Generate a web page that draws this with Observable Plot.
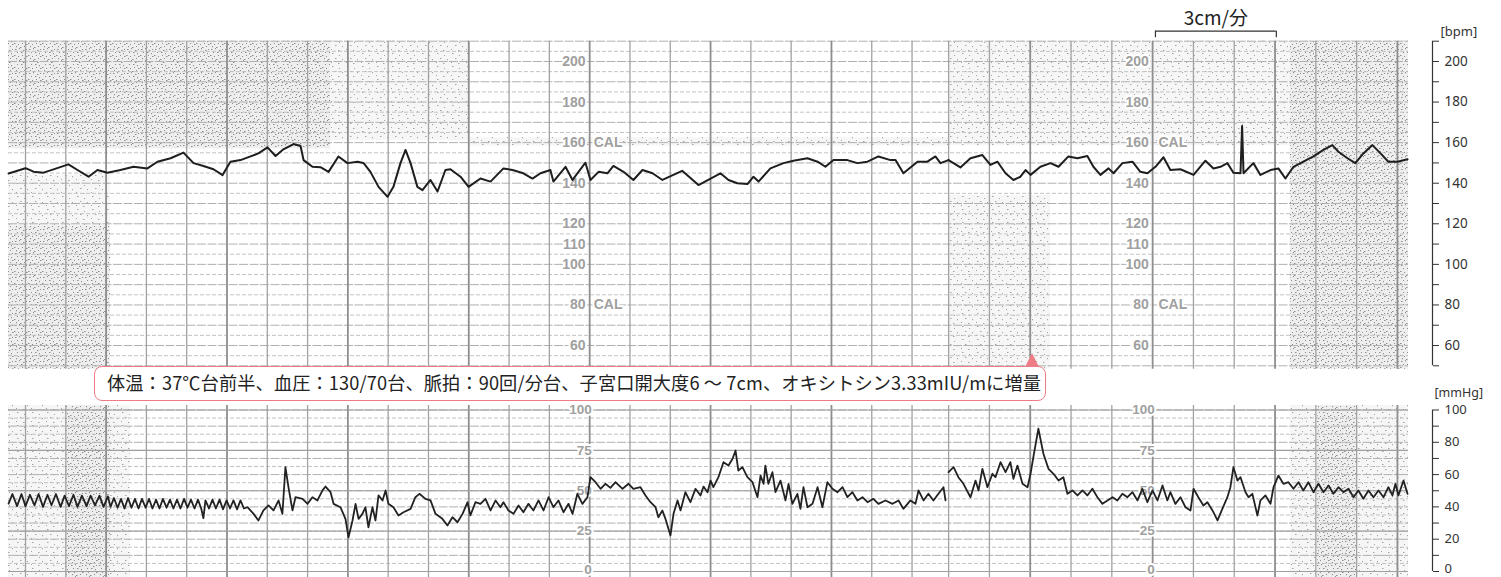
<!DOCTYPE html>
<html><head><meta charset="utf-8">
<script src="https://cdn.jsdelivr.net/npm/d3@7"></script>
<script src="https://cdn.jsdelivr.net/npm/@observablehq/plot@0.6"></script>
<style>
body{margin:0;background:#fff;}
#wrap{position:relative;width:1501px;height:577px;overflow:hidden;}
#top,#bot{position:absolute;left:0;}
#top{top:0;}
#bot{top:372px;}
#note{position:absolute;left:94px;top:366px;width:952px;height:35px;box-sizing:border-box;border:1.5px solid #ee7c86;border-radius:8px;background:#fff;font-family:"Noto Sans CJK JP",sans-serif;font-size:18.2px;line-height:31px;padding-left:12px;color:#222;white-space:nowrap;z-index:3;letter-spacing:0.12px;}
#tri{position:absolute;left:1025px;top:353px;width:0;height:0;border-left:7px solid transparent;border-right:7px solid transparent;border-bottom:14px solid #ee7c86;z-index:2;}
</style></head>
<body>
<svg width="0" height="0" style="position:absolute">
<defs>
<pattern id="spkHeavy" width="14" height="12" patternUnits="userSpaceOnUse">
<rect width="14" height="12" fill="#eeeeee"/>
<g fill="#8e8e8e">
<rect x="1" y="1" width="1.5" height="1"/><rect x="5" y="0" width="1" height="1.2"/><rect x="9" y="2" width="1.5" height="1"/><rect x="12" y="1" width="1" height="1"/>
<rect x="3" y="4" width="1" height="1"/><rect x="7" y="4" width="1.5" height="1"/><rect x="11" y="5" width="1" height="1.2"/><rect x="0" y="7" width="1.5" height="1"/>
<rect x="4" y="8" width="1" height="1"/><rect x="8" y="7" width="1" height="1"/><rect x="12" y="8" width="1.5" height="1"/><rect x="2" y="10" width="1" height="1.2"/>
<rect x="6" y="11" width="1.5" height="1"/><rect x="10" y="10" width="1" height="1"/>
</g>
</pattern>
<pattern id="spkLight" width="15" height="13" patternUnits="userSpaceOnUse">
<rect width="15" height="13" fill="#f6f6f6"/>
<g fill="#a4a4a4">
<rect x="2" y="1" width="1.5" height="1"/><rect x="9" y="3" width="1" height="1"/><rect x="5" y="6" width="1.5" height="1"/>
<rect x="12" y="7" width="1" height="1.2"/><rect x="1" y="10" width="1" height="1"/><rect x="8" y="11" width="1.5" height="1"/>
</g>
</pattern>
</defs>
</svg>
<div id="wrap">
<div id="top"></div>
<div id="bot"></div>
<div id="tri"></div>
<div id="note"></div>
</div>
<script>
// ---------- data (time in seconds along the strip, 3 cm/min) ----------
const fhrStrip1 = [[-8.4,144.8],[0,147.4],[4.0,145.7],[8.9,145.2],[13.9,146.8],[21.3,149.3],[25.8,146.5],[31.3,143.2],[35.7,146.5],[40.7,145.2],[47.1,146.5],[53.6,148.1],[60.5,147.3],[65.5,150.6],[72.0,152.3],[78.4,155.1],[83.4,149.9],[88.3,148.5],[93.3,146.9],[97.8,144.0],[101.7,150.6],[106.7,151.4],[111.7,153.2],[115.6,154.7],[120.1,157.7],[124.1,153.4],[128.0,156.7],[133.0,159.3],[136.5,158.3],[138.0,151.4],[142.4,148.1],[146.4,147.9],[150.4,145.6],[155.3,153.2],[159.8,149.9],[164.8,150.6],[167.7,150.0],[171.2,145.6],[175.2,138.2],[179.7,133.3],[182.6,138.2],[186.1,149.9],[188.6,156.4],[191.1,149.9],[194.5,138.2],[197.0,136.6],[201.0,141.6],[204.5,135.9],[208.4,146.5],[210.9,146.9],[215.9,143.2],[219.9,138.2],[225.8,142.3],[230.8,140.8],[237.2,147.3],[241.7,146.5],[247.1,144.9],[251.6,142.3],[255.6,144.9],[260.5,146.5],[262.0,140.8],[268.0,148.1],[271.5,141.6],[277.9,150.1],[280.4,141.6],[284.4,145.6],[288.8,144.9],[291.8,148.5],[296.8,145.6],[301.7,141.6],[306.2,146.5],[311.2,144.9],[316.1,141.6],[325.9,146.1],[334.0,139.1],[340.0,142.3],[344.9,144.9],[348.9,141.6],[353.3,140.0],[358.3,139.6],[361.3,143.2],[363.8,140.8],[369.7,147.3],[376.2,149.9],[381.1,151.1],[388.1,152.3],[393.1,150.6],[397.0,148.1],[401.0,151.4],[407.9,151.4],[412.9,149.9],[417.9,150.6],[423.3,153.2],[429.3,151.4],[431.8,151.4],[435.7,144.9],[442.7,150.6],[447.6,150.6],[451.6,153.2],[454.1,149.9],[458.1,151.4]];
const fhrStrip2 = [[458.1,151.4],[464.0,147.8],[469.0,152.3],[474.9,153.9],[478.9,149.0],[482.4,150.6],[486.4,144.9],[490.3,141.6],[493.8,143.2],[496.3,146.5],[498.8,144.1],[503.7,148.1],[508.7,149.9],[512.7,148.1],[517.6,153.2],[522.1,152.3],[527.0,153.4],[530.0,148.1],[533.5,144.1],[537.5,147.3],[540.0,144.9],[544.4,149.9],[549.4,150.6],[553.3,145.6],[556.8,144.9],[560.8,148.1],[564.8,152.8],[568.2,146.5],[573.2,146.9],[579.7,144.1],[585.6,151.1],[589.6,147.3],[593.1,148.1],[596.5,149.9],[599.5,145.2],[603.0,144.9],[603.8,168.2],[604.5,144.9],[609.4,149.9],[612.9,144.1],[617.9,146.5],[621.8,147.3],[625.3,142.3],[629.3,148.1],[634.2,150.6],[639.2,153.2],[644.2,156.4],[648.6,158.8],[651.6,155.5],[656.1,152.3],[660.0,149.9],[664.0,154.7],[668.5,158.8],[672.5,154.7],[676.4,150.6],[680.9,150.6],[685.9,151.8]];
const ucStrip1 = [[-8.4,42],[-6.5,48],[-4.2,40.5],[-2.0,48],[0,40.5],[2.2,47.5],[4.5,41],[6.5,48],[8.7,40],[10.9,47.5],[12.9,41],[15.1,48],[17.4,40],[19.4,47],[21.6,40.5],[23.8,47.5],[25.8,40],[28.0,47],[30.3,40.5],[32.3,47],[34.5,41],[36.7,47],[38.7,40],[40.9,46.5],[42.2,40],[43.9,45.5],[45.7,39.5],[47.4,45],[49.1,39],[50.9,45.5],[52.6,39.5],[54.3,45],[56.1,39],[57.8,45],[59.6,39.5],[61.3,45],[63.0,39],[64.8,44.5],[66.5,39],[68.2,45],[70.0,39.5],[71.7,44.5],[73.4,39],[75.2,44.5],[76.9,39],[78.7,45],[80.4,39.5],[82.1,44.5],[83.9,39],[85.6,44.5],[87.3,38.5],[88.3,33],[89.3,44],[91.1,39],[92.8,44.5],[94.5,39],[96.3,44.5],[98.0,38.5],[99.8,44],[101.5,39],[103.2,44],[105.0,38.5],[106.7,44],[108.4,39],[110.2,39.8],[113.2,35.7],[115.6,31.6],[118.1,37.8],[120.6,40.9],[123.1,37.8],[125.6,44],[127.5,35.7],[129.0,64.6],[130.5,52.2],[132.5,37.8],[134.0,46],[137.5,45],[140.0,41.9],[142.4,46],[144.9,44],[147.4,50.2],[148.9,52.6],[151.4,49.1],[152.9,41.9],[156.3,39.8],[158.8,32.6],[160.3,21.2],[162.3,31.6],[163.8,41.9],[165.3,32.6],[167.2,35.7],[168.7,39.8],[170.2,27.4],[172.2,39.8],[173.7,31.6],[175.2,47.1],[177.2,44],[178.7,50.2],[180.1,41.9],[182.6,39.8],[185.1,34.7],[187.6,36.7],[191.1,38.8],[193.5,46],[195.5,48.1],[198.5,45],[201.0,44],[203.5,35.7],[206.9,32.6],[209.4,28.5],[211.9,33.6],[214.4,30.5],[216.9,35.7],[219.4,42.9],[220.8,34.7],[223.3,42.9],[225.8,41.9],[228.3,45],[230.8,37.8],[233.3,44],[235.7,39.8],[237.2,42.9],[239.7,37.8],[242.2,35.7],[244.7,40.9],[247.1,36.7],[249.6,41.9],[252.1,37.8],[254.6,44],[257.1,37.8],[259.6,46],[262.0,39.8],[264.5,44],[267.0,36.7],[269.5,41.9],[271.5,35.7],[273.9,48.1],[276.4,41.9],[278.9,46],[280.4,58.4],[282.9,55.3],[285.4,51.2],[287.8,54.3],[290.3,51.8],[292.8,55.3],[296.3,51.2],[299.3,54.3],[301.7,51.2],[305.2,52.2],[307.7,47.1],[310.2,42.9],[312.7,39.8],[314.1,33.6],[316.1,37.8],[317.6,32.6],[320.1,22.3],[321.6,35.7],[323.6,44],[325.1,37.8],[327.5,49.1],[330.0,42.9],[332.5,51.2],[335.0,47.1],[336.5,52.6],[338.5,49.1],[340.0,56.3],[341.4,52.2],[343.9,58.4],[346.4,67.7],[348.9,65.6],[350.9,69.8],[352.4,74.9],[353.8,62.5],[355.8,64.6],[358.3,58.4],[360.8,55.3],[363.3,46],[364.8,59.4],[366.3,54.3],[367.2,65.6],[368.7,54.3],[370.7,61.5],[372.2,49.1],[374.7,56.3],[377.2,44],[378.7,54.3],[380.6,41.9],[383.1,48.1],[384.6,38.8],[386.1,52.2],[388.1,39.8],[390.6,41.9],[393.1,52.2],[395.5,39.8],[398.0,55.3],[400.5,51.2],[403.0,49.1],[405.5,52.2],[407.9,46],[410.4,49.1],[412.9,44],[415.4,46],[417.9,42.9],[420.8,45],[423.3,41.9],[426.8,44],[430.3,41.9],[433.3,44],[435.7,38.8],[439.2,44],[441.7,41.9],[443.2,50.2],[445.7,44],[448.1,48.1],[450.6,44],[453.1,48.1],[455.6,52.2],[456.6,44]];
const ucStrip2 = [[458.1,61.5],[460.6,64.6],[463.0,58.4],[465.5,54.3],[469.0,46],[471.5,56.3],[473.0,50.2],[474.9,63.6],[477.4,52.2],[479.9,60.5],[481.4,58.4],[483.9,67.7],[486.4,61.5],[488.8,67.7],[490.3,57.4],[492.3,65.6],[494.8,54.3],[497.3,52.2],[498.8,60.5],[500.2,70.8],[502.7,88.4],[505.2,72.9],[507.7,63.6],[510.2,60.5],[512.7,56.3],[515.1,58.4],[517.1,48.1],[519.6,50.2],[522.1,47.1],[524.6,50.2],[527.0,47.1],[529.5,51.2],[532.0,46],[534.5,41.9],[537.0,44],[539.5,46],[541.9,44],[544.4,48.1],[546.9,46],[549.4,49.1],[551.9,44],[554.3,51.2],[556.8,42.9],[559.3,50.2],[561.8,44],[564.3,53.3],[566.7,44],[568.2,49.1],[570.7,41.9],[573.2,46],[575.7,39.8],[578.2,37.8],[579.7,51.2],[582.1,46],[584.6,40.9],[586.6,42.9],[589.1,37.8],[591.6,31.6],[594.0,38.8],[596.5,46],[598.0,52.2],[599.5,64.6],[601.5,56.3],[603.0,58.4],[605.5,49.1],[607.0,46],[608.9,48.1],[611.4,34.7],[612.9,44],[615.4,47.1],[617.9,41.9],[619.4,52.2],[621.8,59.4],[624.3,54.3],[626.8,55.3],[629.3,51.2],[631.8,55.3],[634.2,50.2],[636.7,55.3],[639.2,49.1],[641.7,54.3],[644.2,49.1],[646.7,53.3],[649.1,48.1],[651.6,52.2],[654.1,49.1],[656.6,51.2],[659.1,46],[661.5,50.2],[664.0,45],[666.5,50.2],[669.0,46],[671.5,50.2],[674.0,46],[676.4,52.2],[678.4,47.1],[679.9,54.3],[681.4,47.1],[683.9,56.3],[685.9,48.1]];

const fhrPaperLabels = ["200","180","160","140","120","110","100","80","60"];
const calLabels = ["160","80"];
const ucPaperLabels = ["100","75","50","25"];
const ucPaperZero = ["0"];
const fhrAxisTicks = [50,60,70,80,90,100,110,120,130,140,150,160,170,180,190,200,210];
const ucAxisTicks = [0,10,20,30,40,50,60,70,80,90,100];
const ucAxisLabels = [20,40,60,80,100];
const ucAxisZero = [0];
const speedBar = [560.8, 620.8];
const speedLabel = "3cm/分";
const noteText = "体温：37℃台前半、血圧：130/70台、脈拍：90回/分台、子宮口開大度6 ～ 7cm、オキシトシン3.33mIU/mに増量";

// ---------- paper layout (strip geometry) ----------
const T0 = -8.44, T1 = 698.3, PAPER_END = 686.4, SEAM = 458.15, STEP2 = 20.25;
const grid1 = d3.range(0, 441, 20);
const grid2 = d3.range(0, 12).map(k => SEAM + STEP2 * k);
const minor1 = grid1.filter(t => t % 60 !== 40), major1 = grid1.filter(t => t % 60 === 40);
const minor2 = grid2.filter((t, k) => k % 3 !== 2), major2 = grid2.filter((t, k) => k % 3 === 2);
const labelCols = [278, 557.5];
const calCols = [282, 562.3];

const topHeavy = [
  {t1: T0, t2: 151.4, v1: 157, v2: 210},
  {t1: T0, t2: 42.2, v1: 48.3, v2: 119},
  {t1: 627.8, t2: PAPER_END, v1: 48.3, v2: 210},
];
const topLight = [
  {t1: 151.4, t2: 220.8, v1: 161, v2: 210},
  {t1: T0, t2: 42.2, v1: 119, v2: 144},
  {t1: 220.8, t2: SEAM, v1: 158.3, v2: 162.5},
  {t1: SEAM, t2: 627.8, v1: 158.5, v2: 210},
  {t1: SEAM, t2: 508.7, v1: 48.3, v2: 134},
];
const botHeavy = [
  {t1: 19.9, t2: 42.2, v1: -3.7, v2: 102.8},
  {t1: 641.2, t2: 661.0, v1: -3.7, v2: 102.8},
];
const botLight = [
  {t1: T0, t2: 19.9, v1: -3.7, v2: 102.8},
  {t1: 42.2, t2: 52, v1: -3.7, v2: 102.8},
  {t1: 627.8, t2: 641.2, v1: -3.7, v2: 102.8},
  {t1: 661.0, t2: PAPER_END, v1: -3.7, v2: 102.8},
];

const toRows = a => a.map(([t, v]) => ({t, v}));
const numFont = "Noto Sans";
const paperFont = "Liberation Sans";
const paperText = {fill: "#a0a0a0", stroke: "white", strokeWidth: 4, paintOrder: "stroke", fontSize: 13.5, fontWeight: "bold", fontFamily: paperFont};

function paperMarks(heavy, light, vLo, vHi, hMajor, hMinor) {
  return [
    Plot.rect(light, {x1: "t1", x2: "t2", y1: "v1", y2: "v2", fill: "url(#spkLight)"}),
    Plot.rect(heavy, {x1: "t1", x2: "t2", y1: "v1", y2: "v2", fill: "url(#spkHeavy)"}),
    Plot.ruleY(hMinor, {x1: T0, x2: PAPER_END, stroke: "#bdbdbd", strokeWidth: 0.9, strokeDasharray: "4,2"}),
    Plot.ruleY(hMajor, {x1: T0, x2: PAPER_END, stroke: "#b0b0b0", strokeWidth: 1, strokeDasharray: "9,1.5"}),
    Plot.ruleX(minor1.concat(minor2), {y1: vLo, y2: vHi, stroke: "#a2a2a2", strokeWidth: 1.3}),
    Plot.ruleX(major1.concat(major2), {y1: vLo, y2: vHi, stroke: "#8e8e8e", strokeWidth: 1.8}),
  ];
}

// ---------- top: FHR ----------
const fhrTop = Plot.plot({
  width: 1501, height: 372,
  marginLeft: 8, marginRight: 69, marginTop: 40.7, marginBottom: 6.7,
  x: {domain: [T0, T1], axis: null},
  y: {domain: [50, 210], axis: null},
  style: {fontFamily: numFont, color: "#333", background: "transparent", overflow: "visible"},
  marks: [
    ...paperMarks(topHeavy, topLight, 48.3, 210,
      d3.range(50, 211, 10), d3.range(55, 210, 10)),
    ...labelCols.map(c => Plot.text(fhrPaperLabels, {x: () => c, y: d => +d, text: d => d, textAnchor: "end", ...paperText, fontSize: 14})),
    ...calCols.map(c => Plot.text(calLabels, {x: () => c, y: d => +d, text: () => "CAL", textAnchor: "start", ...paperText, fontSize: 14})),
    Plot.line(toRows(fhrStrip1), {x: "t", y: "v", stroke: "#1e1e1e", strokeWidth: 2}),
    Plot.line(toRows(fhrStrip2), {x: "t", y: "v", stroke: "#1e1e1e", strokeWidth: 2}),
    Plot.ruleX([T1], {y1: 50, y2: 210, stroke: "#333", strokeWidth: 1.2}),
    Plot.axisY({anchor: "right", ticks: fhrAxisTicks, tickSize: 6, tickPadding: 6,
      tickFormat: d => (d >= 60 && d <= 200 && d % 20 === 0) ? String(d) : "", fontSize: 13.5, label: null, stroke: "#333", fill: "#333"}),
    Plot.text(["[bpm]"], {x: () => T1, y: () => 210, dx: 8, dy: -9, textAnchor: "start", fontSize: 13, fill: "#333"}),
    Plot.ruleY([210], {x1: speedBar[0], x2: speedBar[1], dy: -10, stroke: "#333", strokeWidth: 1.2}),
    Plot.ruleX(speedBar, {y1: 210, y2: 213.2, dy: -3.5, stroke: "#333", strokeWidth: 1.2}),
    Plot.text([speedLabel], {x: () => (speedBar[0] + speedBar[1]) / 2, y: () => 210, dy: -22.5, fontSize: 19,
      fill: "#222", fontFamily: "Noto Sans CJK JP"}),
  ]
});
document.getElementById("top").appendChild(fhrTop);

// ---------- bottom: uterine contraction ----------
const ucBot = Plot.plot({
  width: 1501, height: 205,
  marginLeft: 8, marginRight: 69, marginTop: 37.5, marginBottom: 6,
  x: {domain: [T0, T1], axis: null},
  y: {domain: [0, 100], axis: null},
  style: {fontFamily: numFont, color: "#333", background: "transparent", overflow: "visible"},
  marks: [
    ...paperMarks(botHeavy, botLight, -3.7, 102.8,
      d3.range(0, 101, 10), d3.range(5, 100, 10)),
    Plot.ruleY([0, 25, 50, 75, 100], {x1: T0, x2: PAPER_END, stroke: "#a0a0a0", strokeWidth: 1.2}),
    ...labelCols.map(c => Plot.text(ucPaperLabels, {x: () => c + 3, y: d => +d, text: d => d, textAnchor: "end", ...paperText})),
    ...labelCols.map(c => Plot.text(ucPaperZero, {x: () => c + 3, y: d => +d, dy: -2, text: d => d, textAnchor: "end", ...paperText})),
    Plot.line(toRows(ucStrip1), {x: "t", y: "v", stroke: "#222", strokeWidth: 1.8}),
    Plot.line(toRows(ucStrip2), {x: "t", y: "v", stroke: "#222", strokeWidth: 1.8}),
    Plot.ruleX([T1], {y1: 0, y2: 100, stroke: "#333", strokeWidth: 1.2}),
    Plot.axisY({anchor: "right", ticks: ucAxisTicks, tickSize: 6, tickFormat: () => "", label: null, stroke: "#333"}),
    Plot.text(ucAxisLabels, {x: () => T1, y: d => d, text: d => String(d), dx: 12, textAnchor: "start", fontSize: 13, fill: "#333"}),
    Plot.text(ucAxisZero, {x: () => T1, y: d => d, text: d => String(d), dx: 12, dy: -2.5, textAnchor: "start", fontSize: 13, fill: "#333"}),
    Plot.text(["[mmHg]"], {x: () => T1, y: () => 100, dx: 2, dy: -17, textAnchor: "start", fontSize: 12.5, fill: "#333"}),
  ]
});
document.getElementById("bot").appendChild(ucBot);
document.getElementById("note").textContent = noteText;
</script>
</body></html>
